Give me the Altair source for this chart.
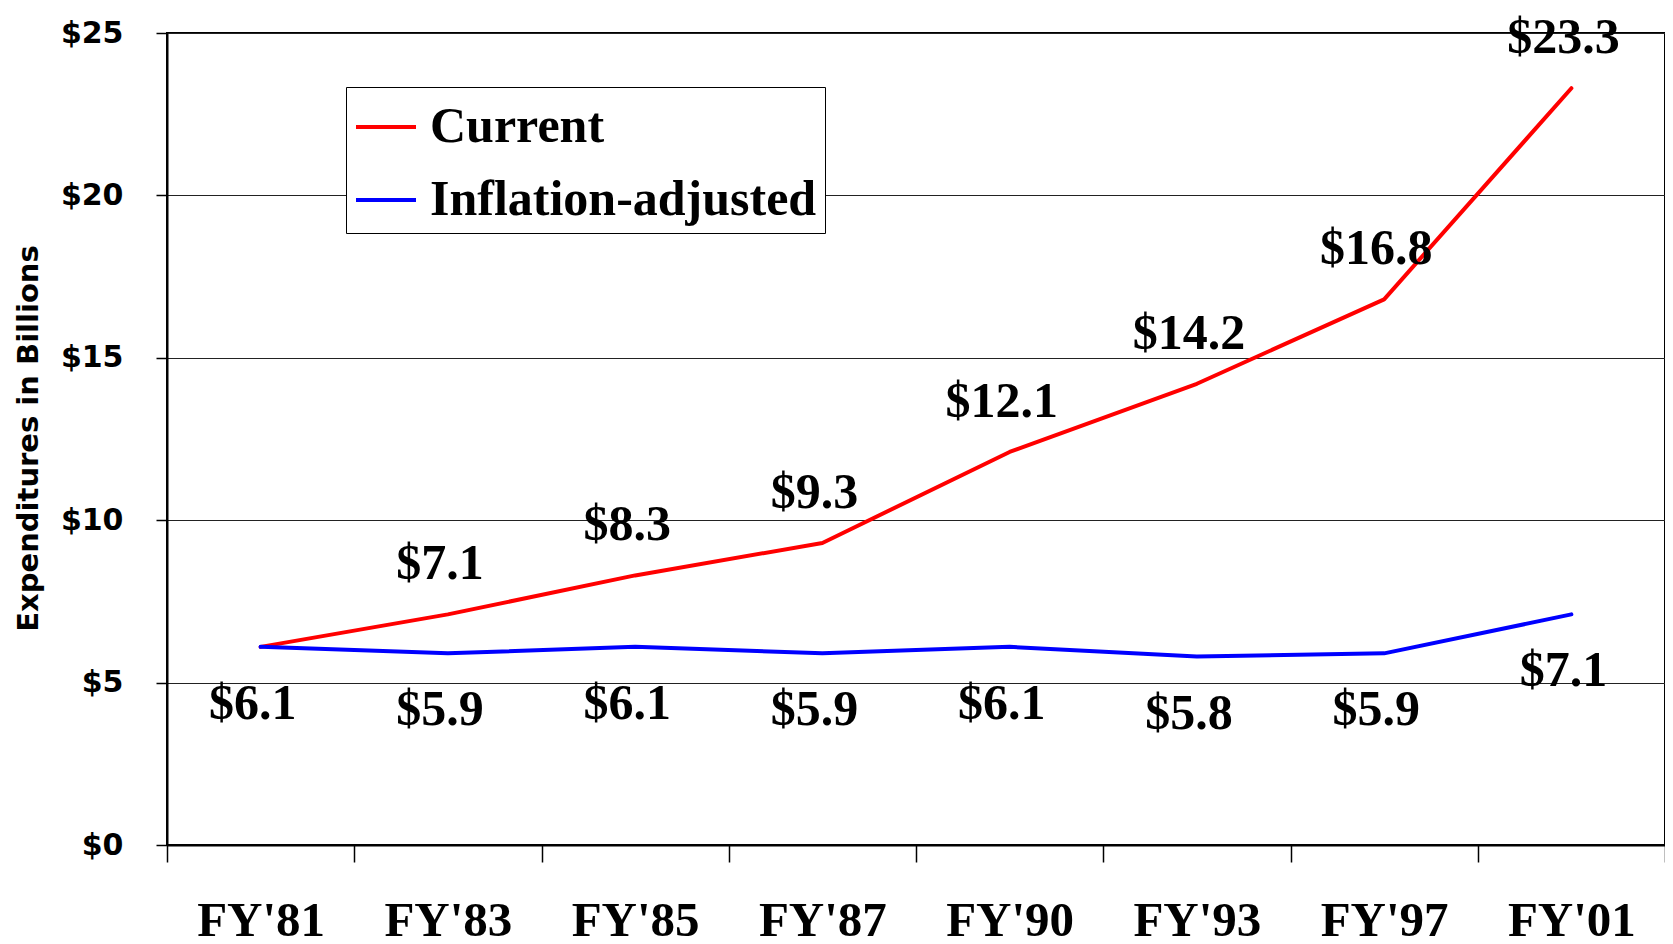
import altair as alt
import pandas as pd

years = ["FY'81", "FY'83", "FY'85", "FY'87", "FY'90", "FY'93", "FY'97", "FY'01"]
current = [6.1, 7.1, 8.3, 9.3, 12.1, 14.2, 16.8, 23.3]
adjusted = [6.1, 5.9, 6.1, 5.9, 6.1, 5.8, 5.9, 7.1]
series_names = ["Current", "Inflation-adjusted"]
series_colors = ["#FF0000", "#0000FF"]
y_ticks = [0, 5, 10, 15, 20, 25]

rows = []
for yr, c, a in zip(years, current, adjusted):
    rows.append({"year": yr, "series": "Current", "value": c})
    rows.append({"year": yr, "series": "Inflation-adjusted", "value": a})
df = pd.DataFrame(rows)
df["label"] = df["value"].map(lambda v: f"${v:.1f}")

SERIF = "Liberation Serif"
SANS = "DejaVu Sans"

x_enc = alt.X(
    "year:N",
    sort=years,
    bandPosition=0.5,
    scale=alt.Scale(type="band", paddingInner=0, paddingOuter=0),
    axis=alt.Axis(
        title=None, labelAngle=0, labelFont=SERIF, labelFontSize=49,
        labelFontWeight="bold", labelColor="black", labelBaseline="alphabetic",
        labelPadding=73, tickBand="extent", tickSize=17, tickColor="black",
        tickWidth=1.5, domainColor="black", domainWidth=2, grid=False,
    ),
)
y_enc = alt.Y(
    "value:Q",
    scale=alt.Scale(domain=[0, 25], nice=False),
    axis=alt.Axis(
        values=y_ticks, labelExpr="'$' + datum.value", labelFont=SANS,
        labelFontSize=30, labelFontWeight="bold", labelColor="black",
        tickSize=11, tickColor="black", tickWidth=1.5, labelPadding=33,
        gridColor="#222222", gridWidth=1.2, domainColor="black", domainWidth=2,
        title="Expenditures in Billions", titleFont=SANS, titleFontSize=29,
        titleFontWeight="bold", titleColor="black", titleAngle=270,
        titleX=-139, titleY=405, titleAlign="center", titleBaseline="middle",
    ),
)

base = alt.Chart(df)

lines = base.mark_line(strokeWidth=4, strokeCap="round", strokeJoin="round").encode(
    x=x_enc,
    y=y_enc,
    color=alt.Color(
        "series:N",
        scale=alt.Scale(domain=series_names, range=series_colors),
        legend=alt.Legend(
            orient="none", legendX=179, legendY=54, title=None,
            symbolType="stroke", symbolSize=3600, symbolStrokeWidth=4,
            labelFont=SERIF, labelFontSize=50, labelFontWeight="bold",
            labelColor="black", labelOffset=12, padding=8, rowPadding=16,
            strokeColor="black", fillColor="white", labelLimit=0,
        ),
    ),
)

text_cur = base.transform_filter(
    (alt.datum.series == "Current") & (alt.datum.year != "FY'81")
).mark_text(
    font=SERIF, fontSize=50, fontWeight="bold", color="black", dy=-50, dx=-8,
    baseline="middle",
).encode(x=x_enc, y=y_enc, text="label:N")

text_adj = base.transform_filter(
    alt.datum.series == "Inflation-adjusted"
).mark_text(
    font=SERIF, fontSize=50, fontWeight="bold", color="black", dy=57, dx=-8,
    baseline="middle",
).encode(x=x_enc, y=y_enc, text="label:N")

chart = alt.layer(lines, text_cur, text_adj).properties(
    width=1498, height=812,
    autosize=alt.AutoSizeParams(type="none"),
    padding={"left": 159, "top": 25, "right": 0, "bottom": 100},
).configure_view(stroke="black", strokeWidth=2)

chart.save("out.html", embed_options={"renderer": "svg", "actions": False})
